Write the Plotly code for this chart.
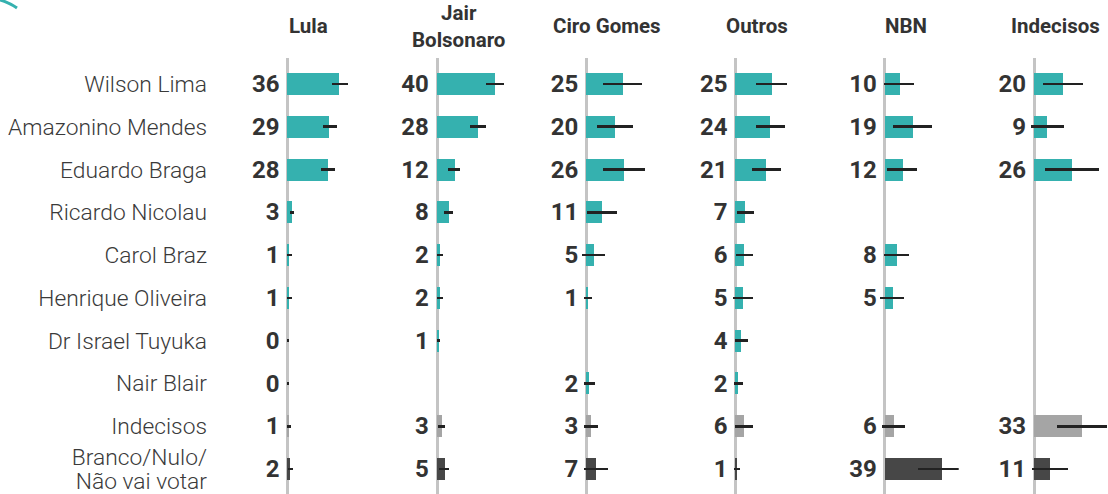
import plotly.graph_objects as go

# rows (top to bottom)
candidates = ["Wilson Lima", "Amazonino Mendes", "Eduardo Braga", "Ricardo Nicolau",
              "Carol Braz", "Henrique Oliveira", "Dr Israel Tuyuka", "Nair Blair",
              "Indecisos", "Branco/Nulo/ Não vai votar"]
# the last row label is split over two tick lines
last_label_lines = ["Branco/Nulo/", "Não vai votar"]

# columns: presidential vote groups
groups = ["Lula", "Jair<br>Bolsonaro", "Ciro Gomes", "Outros", "NBN", "Indecisos"]

lula = [36, 29, 28, 3, 1, 1, 0, 0, 1, 2]
bolsonaro = [40, 28, 12, 8, 2, 2, 1, None, 3, 5]
ciro = [25, 20, 26, 11, 5, 1, None, 2, 3, 7]
outros = [25, 24, 21, 7, 6, 5, 4, 2, 6, 1]
nbn = [10, 19, 12, None, 8, 5, None, None, 6, 39]
indecisos = [20, 9, 26, None, None, None, None, None, 33, 11]

# margins of error (+/-)
lula_err = [5.5, 5, 4.8, 1.4, 1.7, 1.7, 0.6, 0.6, 1.5, 2]
bolsonaro_err = [6.2, 5.5, 4.1, 3.2, 2.1, 2.1, 1, None, 2.4, 3.3]
ciro_err = [13.4, 12.3, 14.5, 10.5, 7.7, 2.8, None, 3.7, 4.8, 8.3]
outros_err = [10.7, 10, 10, 5.7, 5.7, 6.8, 4.6, 3, 6.2, 2]
nbn_err = [10.3, 13.4, 10.3, None, 8.5, 8.3, None, None, 7.8, 16.3]
indecisos_err = [13.8, 11.4, 18.6, None, None, None, None, None, 17.3, 12.5]

values = [lula, bolsonaro, ciro, outros, nbn, indecisos]
errors = [lula_err, bolsonaro_err, ciro_err, outros_err, nbn_err, indecisos_err]

TEAL, GREY, DARK = "#35b1af", "#a5a5a5", "#474747"
row_colors = [TEAL] * 8 + [GREY, DARK]

W, H = 1108, 494
TOP = 58
PX = 1.45            # pixels per percentage point
ZERO0, STEP = 287.7, 149.3
XMIN, XMAX = -25, 50.9
LINE_OFF = 0.28      # half line spacing of the two-line label, in rows

fig = go.Figure()
rows = list(range(len(candidates)))

for i, (vals, errs) in enumerate(zip(values, errors)):
    xa = "x" if i == 0 else f"x{i + 1}"
    idx = [r for r in rows if vals[r] is not None]
    fig.add_trace(go.Bar(
        x=[vals[r] for r in idx], y=idx, orientation="h", width=0.514,
        marker=dict(color=[row_colors[r] for r in idx], line=dict(width=0)),
        error_x=dict(type="data", array=[errs[r] for r in idx], color="#222222",
                     thickness=2.6, width=0),
        xaxis=xa, yaxis="y", showlegend=False, hoverinfo="skip"))
    # value labels, nudged slightly down to sit centred on the bar
    fig.add_trace(go.Scatter(
        x=[-5.6] * len(idx), y=[r + 0.05 for r in idx], text=[str(vals[r]) for r in idx],
        mode="text", textposition="middle left", cliponaxis=False,
        textfont=dict(family="Roboto", size=24, color="#333333", weight=700),
        xaxis=xa, yaxis="y", showlegend=False, hoverinfo="skip"))

    zero = ZERO0 + STEP * i
    left = zero + XMIN * PX
    right = min(zero + XMAX * PX, W)
    fig.layout["xaxis" if i == 0 else f"xaxis{i + 1}"] = dict(
        domain=[left / W, right / W], range=[XMIN, (right - zero) / PX],
        showgrid=False, showticklabels=False, zeroline=True,
        zerolinecolor="#c4c4c4", zerolinewidth=3, anchor="y", fixedrange=True)

    fig.add_annotation(
        x=14.5, xref=xa, y=1 + (TOP - 26) / (H - TOP), yref="paper",
        text=f"<b>{groups[i]}</b>", showarrow=False, yanchor="middle",
        font=dict(family="Roboto", size=20.5, color="#333333"))

last = rows[-1]
tickvals = rows[:-1] + [last - LINE_OFF, last + LINE_OFF]
ticktext = candidates[:-1] + last_label_lines

fig.update_layout(
    width=W, height=H, margin=dict(l=0, r=0, t=TOP, b=0),
    paper_bgcolor="white", plot_bgcolor="white", bargap=0,
    yaxis=dict(range=[9.584, -0.608], tickvals=tickvals, ticktext=ticktext,
               anchor="free", position=207 / W, showgrid=False, zeroline=False,
               ticks="", fixedrange=True, ticklabeloverflow="allow", automargin=False,
               tickfont=dict(family="Roboto Light, Roboto", size=22.8,
                             color="#3a3a3a", weight=300)),
)

# cut-off logo at top left corner
fig.add_shape(type="path", xref="paper", yref="paper", layer="above",
              path=f"M 0,{1 + TOP / (H - TOP)} Q {8 / W},{1 + (TOP - 2) / (H - TOP)} "
                   f"{17 / W},{1 + (TOP - 8) / (H - TOP)}",
              line=dict(color=TEAL, width=3))

fig.write_html("out.html", config={"displayModeBar": False},
               post_script="document.body.style.margin='0';")
